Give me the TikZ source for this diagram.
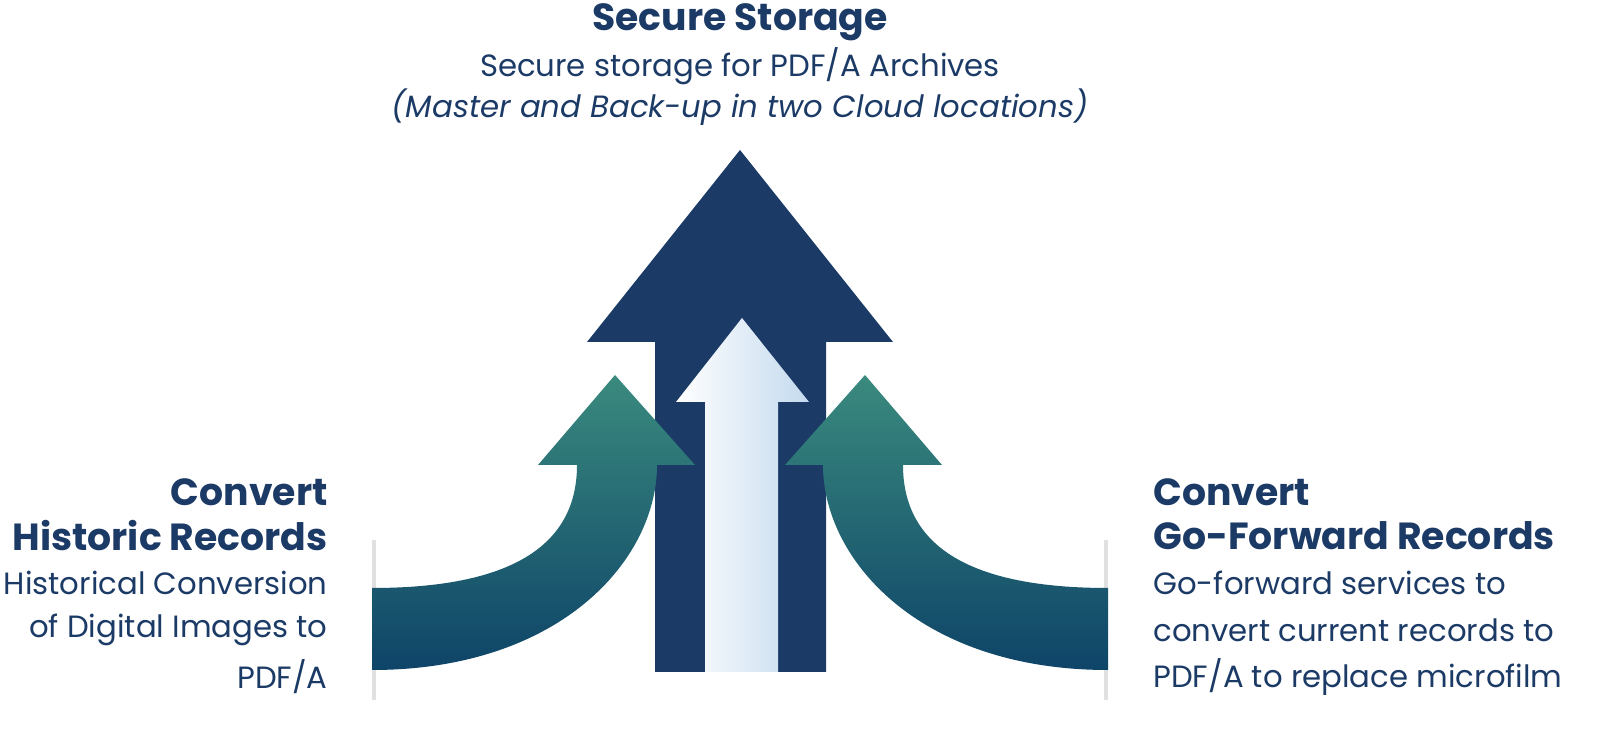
\documentclass[tikz,border=0pt]{standalone}
\usepackage{fontspec}
\setmainfont{Poppins}
\definecolor{navy}{HTML}{1B3A66}
\definecolor{teal1}{HTML}{3A8A7E}
\definecolor{deep}{HTML}{0E4468}
\definecolor{lblue}{HTML}{C4DAEE}
\begin{document}
\begin{tikzpicture}[x=0.02cm,y=-0.02cm,
  ttl/.style={font=\fontsize{21.5}{24}\selectfont\bfseries,text=navy,inner sep=0},
  body/.style={font=\fontsize{17.5}{20}\selectfont,text=navy,inner sep=0},
  side/.style={top color=teal1,bottom color=deep,draw=none}]
\useasboundingbox (0,0) rectangle (1600,739);
% shadows
\fill[black!12] (372,540) rectangle (376,700);
\fill[black!12] (1104,540) rectangle (1108,700);
% big arrow
\fill[navy] (655,672) -- (655,342) -- (587,342) -- (740,150) -- (893,342) -- (826,342) -- (826,672) -- cycle;
% white arrow
\shade[left color=white,right color=lblue] (705,672) -- (705,402) -- (676,402) -- (742,318) -- (809,402) -- (778,402) -- (778,672) -- cycle;
% left arrow
\shade[side] (372,670) .. controls (560,670) and (657,560) .. (657,465) -- (695,465) -- (615,375) -- (538,465) -- (577,465) .. controls (577,540) and (520,588) .. (372,588) -- cycle;
% right arrow
\shade[side] (1108,670) .. controls (920,670) and (823,560) .. (823,465) -- (785,465) -- (865,375) -- (942,465) -- (903,465) .. controls (903,540) and (960,588) .. (1108,588) -- cycle;
% texts
\node[ttl] (t1) at (740,22) {Secure Storage};
\node[body] (t2) at (740,66) {Secure storage for PDF/A Archives};
\node[body,font=\fontsize{17.5}{20}\selectfont\itshape] (t3) at (740,107) {(Master and Back-up in two Cloud locations)};
\node[ttl,anchor=east] (l1) at (328,492) {Convert};
\node[ttl,anchor=east] (l2) at (328,536) {Historic Records};
\node[body,anchor=east] (l3) at (328,583) {Historical Conversion};
\node[body,anchor=east] (l4) at (328,630) {of Digital Images to};
\node[body,anchor=east] (l5) at (328,677) {PDF/A};
\node[ttl,anchor=west] (r1) at (1153,492) {Convert};
\node[ttl,anchor=west] (r2) at (1153,536) {Go-Forward Records};
\node[body,anchor=west] (r3) at (1153,583) {Go-forward services to};
\node[body,anchor=west] (r4) at (1153,630) {convert current records to};
\node[body,anchor=west] (r5) at (1153,677) {PDF/A to replace microfilm};
\end{tikzpicture}
\end{document}
